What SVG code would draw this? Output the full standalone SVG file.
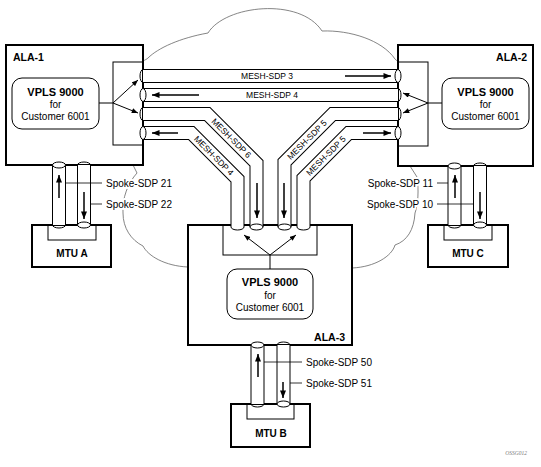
<svg xmlns="http://www.w3.org/2000/svg" width="541" height="467" viewBox="0 0 541 467">
<style>
.box{fill:#fff;stroke:#000;stroke-width:2}
.inner{fill:none;stroke:#000;stroke-width:1}
.vpls{fill:#fff;stroke:#000;stroke-width:1}
.t{font-family:"Liberation Sans",Arial,sans-serif;fill:#000}
.b{font-weight:bold}
.cloud{fill:none;stroke:#666;stroke-width:0.8}
.po{fill:none;stroke:#000;stroke-width:14;stroke-linejoin:miter}
.pi{fill:none;stroke:#fff;stroke-width:12;stroke-linejoin:miter}
.cap{fill:#fff;stroke:#000;stroke-width:1}
.arc{fill:none;stroke:#000;stroke-width:1}
.arr{stroke:#000;stroke-width:1.5;marker-end:url(#ah)}
.thin{stroke:#000;stroke-width:1;fill:none}
.tarr{stroke:#000;stroke-width:1;marker-end:url(#as)}
.lead{stroke:#000;stroke-width:0.8}
.halo{stroke:#fff;stroke-width:4;paint-order:stroke;stroke-linejoin:round}
</style>
<defs>
<marker id="ah" viewBox="0 0 10 8" refX="10" refY="4" markerWidth="9" markerHeight="6" orient="auto" markerUnits="userSpaceOnUse"><path d="M0,0 L10,4 L0,8 z" fill="#000"/></marker>
<marker id="as" viewBox="0 0 10 8" refX="10" refY="4" markerWidth="7" markerHeight="5" orient="auto" markerUnits="userSpaceOnUse"><path d="M0,0 L10,4 L0,8 z" fill="#000"/></marker>
</defs>
<rect width="541" height="467" fill="#fff"/>
<g id="cloud">
<path class="cloud" d="M143,61 C145,60 147,59 148,58 C158,48 180,38 208,33 C225,5 300,-3 322,31 C350,30 382,40 395,59 C396,60 397,61 398,61"/>
<path class="cloud" d="M410,166 L417,177 C419,190 418,205 415,213 C414,230 407,241 395,245 C392,256 375,267 352,268"/>
<path class="cloud" d="M133,165 L137,173 C128,183 122,198 123,213 C123,228 131,240 143,246 C148,256 165,266 188,267"/>
</g>
<g id="ALA-1">
<rect class="box" x="6" y="45" width="137" height="120"/>
<rect class="inner" x="113" y="62" width="30" height="83"/>
<rect class="vpls" x="12" y="78" width="87" height="51" rx="10"/>
<text class="t b" x="13" y="61" font-size="10.5">ALA-1</text>
<text class="t b" x="55.5" y="96" font-size="11" text-anchor="middle">VPLS 9000</text>
<text class="t" x="55.5" y="107.5" font-size="10" text-anchor="middle">for</text>
<text class="t" x="55.5" y="120" font-size="10" text-anchor="middle">Customer 6001</text>
<line class="thin" x1="99" y1="103" x2="113" y2="103"/>
<line class="tarr" x1="113" y1="103" x2="138" y2="80"/>
<line class="tarr" x1="113" y1="103" x2="138" y2="113"/>
</g>
<g id="ALA-2">
<rect class="box" x="398" y="45" width="135" height="121"/>
<rect class="inner" x="398" y="62" width="30" height="84"/>
<rect class="vpls" x="442" y="78" width="87" height="51" rx="10"/>
<text class="t b" x="527" y="61" font-size="10.5" text-anchor="end">ALA-2</text>
<text class="t b" x="485.5" y="96" font-size="11" text-anchor="middle">VPLS 9000</text>
<text class="t" x="485.5" y="107.5" font-size="10" text-anchor="middle">for</text>
<text class="t" x="485.5" y="120" font-size="10" text-anchor="middle">Customer 6001</text>
<line class="thin" x1="442" y1="103" x2="428" y2="103"/>
<line class="tarr" x1="428" y1="103" x2="403" y2="93"/>
<line class="tarr" x1="428" y1="103" x2="403" y2="113"/>
</g>
<g id="ALA-3">
<rect class="box" x="188" y="225" width="164" height="120"/>
<rect class="inner" x="223" y="225" width="94" height="30"/>
<rect class="vpls" x="227" y="269" width="86" height="50" rx="10"/>
<text class="t b" x="345" y="341" font-size="10.5" text-anchor="end">ALA-3</text>
<text class="t b" x="270" y="286" font-size="11" text-anchor="middle">VPLS 9000</text>
<text class="t" x="270" y="298.5" font-size="10" text-anchor="middle">for</text>
<text class="t" x="270" y="311" font-size="10" text-anchor="middle">Customer 6001</text>
<line class="thin" x1="270" y1="269" x2="270" y2="255"/>
<line class="tarr" x1="270" y1="255" x2="244" y2="235"/>
<line class="tarr" x1="270" y1="255" x2="296" y2="235"/>
</g>
<g id="MTU-A">
<rect class="box" x="32" y="225" width="79" height="42"/>
<rect class="inner" x="48" y="225" width="48" height="15"/>
<text class="t b" x="72" y="257" font-size="10" text-anchor="middle">MTU A</text>
</g>
<g id="MTU-C">
<rect class="box" x="428" y="225" width="80" height="42"/>
<rect class="inner" x="444" y="225" width="48" height="15"/>
<text class="t b" x="468" y="257" font-size="10" text-anchor="middle">MTU C</text>
</g>
<g id="MTU-B">
<rect class="box" x="231" y="404" width="79" height="43"/>
<rect class="inner" x="247" y="404" width="47" height="15"/>
<text class="t b" x="271" y="437" font-size="10" text-anchor="middle">MTU B</text>
</g>
<g id="connectors">
<path class="po" d="M143,76 H398"/><path class="pi" d="M143,76 H398"/>
<path class="po" d="M143,95 H398"/><path class="pi" d="M143,95 H398"/>
<path class="po" d="M143,114 H207.3 L256.5,163.2 V227"/><path class="pi" d="M143,114 H207.3 L256.5,163.2 V227"/>
<path class="po" d="M143,133 H191.3 L237.5,179.2 V227"/><path class="pi" d="M143,133 H191.3 L237.5,179.2 V227"/>
<path class="po" d="M398,114 H332.7 L284.5,162.2 V227"/><path class="pi" d="M398,114 H332.7 L284.5,162.2 V227"/>
<path class="po" d="M398,133 H348.7 L303.5,178.2 V227"/><path class="pi" d="M398,133 H348.7 L303.5,178.2 V227"/>
<path class="arc" d="M143,69.5 A3,6.5 0 0 0 143,82.5"/>
<ellipse class="cap" cx="398" cy="76" rx="3" ry="6.5"/>
<ellipse class="cap" cx="143" cy="95" rx="3" ry="6.5"/>
<path class="arc" d="M398,88.5 A3,6.5 0 0 1 398,101.5"/>
<path class="arc" d="M143,107.5 A3,6.5 0 0 0 143,120.5"/>
<ellipse class="cap" cx="143" cy="133" rx="3" ry="6.5"/>
<path class="arc" d="M398,107.5 A3,6.5 0 0 1 398,120.5"/>
<ellipse class="cap" cx="398" cy="133" rx="3" ry="6.5"/>
<path class="arc" d="M231,227 A6.5,3 0 0 0 244,227"/>
<ellipse class="cap" cx="256.5" cy="227" rx="6.5" ry="3"/>
<ellipse class="cap" cx="284.5" cy="227" rx="6.5" ry="3"/>
<path class="arc" d="M297,227 A6.5,3 0 0 0 310,227"/>
<text class="t" x="267" y="79" font-size="8.5" text-anchor="middle">MESH-SDP 3</text>
<text class="t" x="272" y="98" font-size="8.5" text-anchor="middle">MESH-SDP 4</text>
<text class="t" font-size="8.5" text-anchor="middle" transform="translate(231.5,138.2) rotate(45)" y="3">MESH-SDP 6</text>
<text class="t" font-size="8.5" text-anchor="middle" transform="translate(214,155.7) rotate(45)" y="3">MESH-SDP 4</text>
<text class="t" font-size="8.5" text-anchor="middle" transform="translate(307,139.7) rotate(-45)" y="3">MESH-SDP 5</text>
<text class="t" font-size="8.5" text-anchor="middle" transform="translate(326,155.7) rotate(-45)" y="3">MESH-SDP 5</text>
<line class="arr" x1="345" y1="76" x2="391" y2="76"/>
<line class="arr" x1="199" y1="95" x2="152" y2="95"/>
<line class="arr" x1="178" y1="133" x2="152" y2="133"/>
<line class="arr" x1="363" y1="133" x2="391" y2="133"/>
<line class="arr" x1="257" y1="183" x2="257" y2="218"/>
<line class="arr" x1="284" y1="183" x2="284" y2="218"/>
<path class="po" d="M59,165 V225"/><path class="pi" d="M59,165 V225"/>
<path class="po" d="M84,165 V225"/><path class="pi" d="M84,165 V225"/>
<ellipse class="cap" cx="59" cy="165" rx="6.5" ry="3"/>
<path class="arc" d="M52.5,225 A6.5,3 0 0 0 65.5,225"/>
<path class="arc" d="M77.5,165 A6.5,3 0 0 1 90.5,165"/>
<ellipse class="cap" cx="84" cy="225" rx="6.5" ry="3"/>
<line class="arr" x1="59" y1="198" x2="59" y2="175"/>
<line class="arr" x1="84" y1="192" x2="84" y2="219"/>
<path class="po" d="M454.5,166 V225"/><path class="pi" d="M454.5,166 V225"/>
<path class="po" d="M480,166 V225"/><path class="pi" d="M480,166 V225"/>
<ellipse class="cap" cx="454.5" cy="166" rx="6.5" ry="3"/>
<path class="arc" d="M448,225 A6.5,3 0 0 0 461,225"/>
<path class="arc" d="M473.5,166 A6.5,3 0 0 1 486.5,166"/>
<ellipse class="cap" cx="480" cy="225" rx="6.5" ry="3"/>
<line class="arr" x1="455" y1="198" x2="455" y2="175"/>
<line class="arr" x1="480" y1="192" x2="480" y2="219"/>
<path class="po" d="M257.5,345 V404"/><path class="pi" d="M257.5,345 V404"/>
<path class="po" d="M283.5,345 V404"/><path class="pi" d="M283.5,345 V404"/>
<ellipse class="cap" cx="257.5" cy="345" rx="6.5" ry="3"/>
<path class="arc" d="M251,404 A6.5,3 0 0 0 264,404"/>
<path class="arc" d="M277,345 A6.5,3 0 0 1 290,345"/>
<ellipse class="cap" cx="283.5" cy="404" rx="6.5" ry="3"/>
<line class="arr" x1="258" y1="377" x2="258" y2="354"/>
<line class="arr" x1="283" y1="382" x2="283" y2="398"/>
<line class="lead" x1="65.5" y1="183" x2="102" y2="183"/>
<line class="lead" x1="90.5" y1="204" x2="102" y2="204"/>
<text class="t halo" x="106" y="187" font-size="10">Spoke-SDP 21</text>
<text class="t halo" x="106" y="208" font-size="10">Spoke-SDP 22</text>
<line class="lead" x1="437" y1="183" x2="448" y2="183"/>
<line class="lead" x1="437" y1="204" x2="473.5" y2="204"/>
<text class="t halo" x="433" y="187" font-size="10" text-anchor="end">Spoke-SDP 11</text>
<text class="t halo" x="433" y="208" font-size="10" text-anchor="end">Spoke-SDP 10</text>
<line class="lead" x1="264" y1="362" x2="302" y2="362"/>
<line class="lead" x1="290" y1="383" x2="302" y2="383"/>
<text class="t" x="306" y="365.5" font-size="10">Spoke-SDP 50</text>
<text class="t" x="306" y="386.5" font-size="10">Spoke-SDP 51</text>
</g>
<text x="527" y="455" font-family="Liberation Serif,serif" font-style="italic" font-size="5.5" fill="#777" text-anchor="end">OSSG012</text>
</svg>
